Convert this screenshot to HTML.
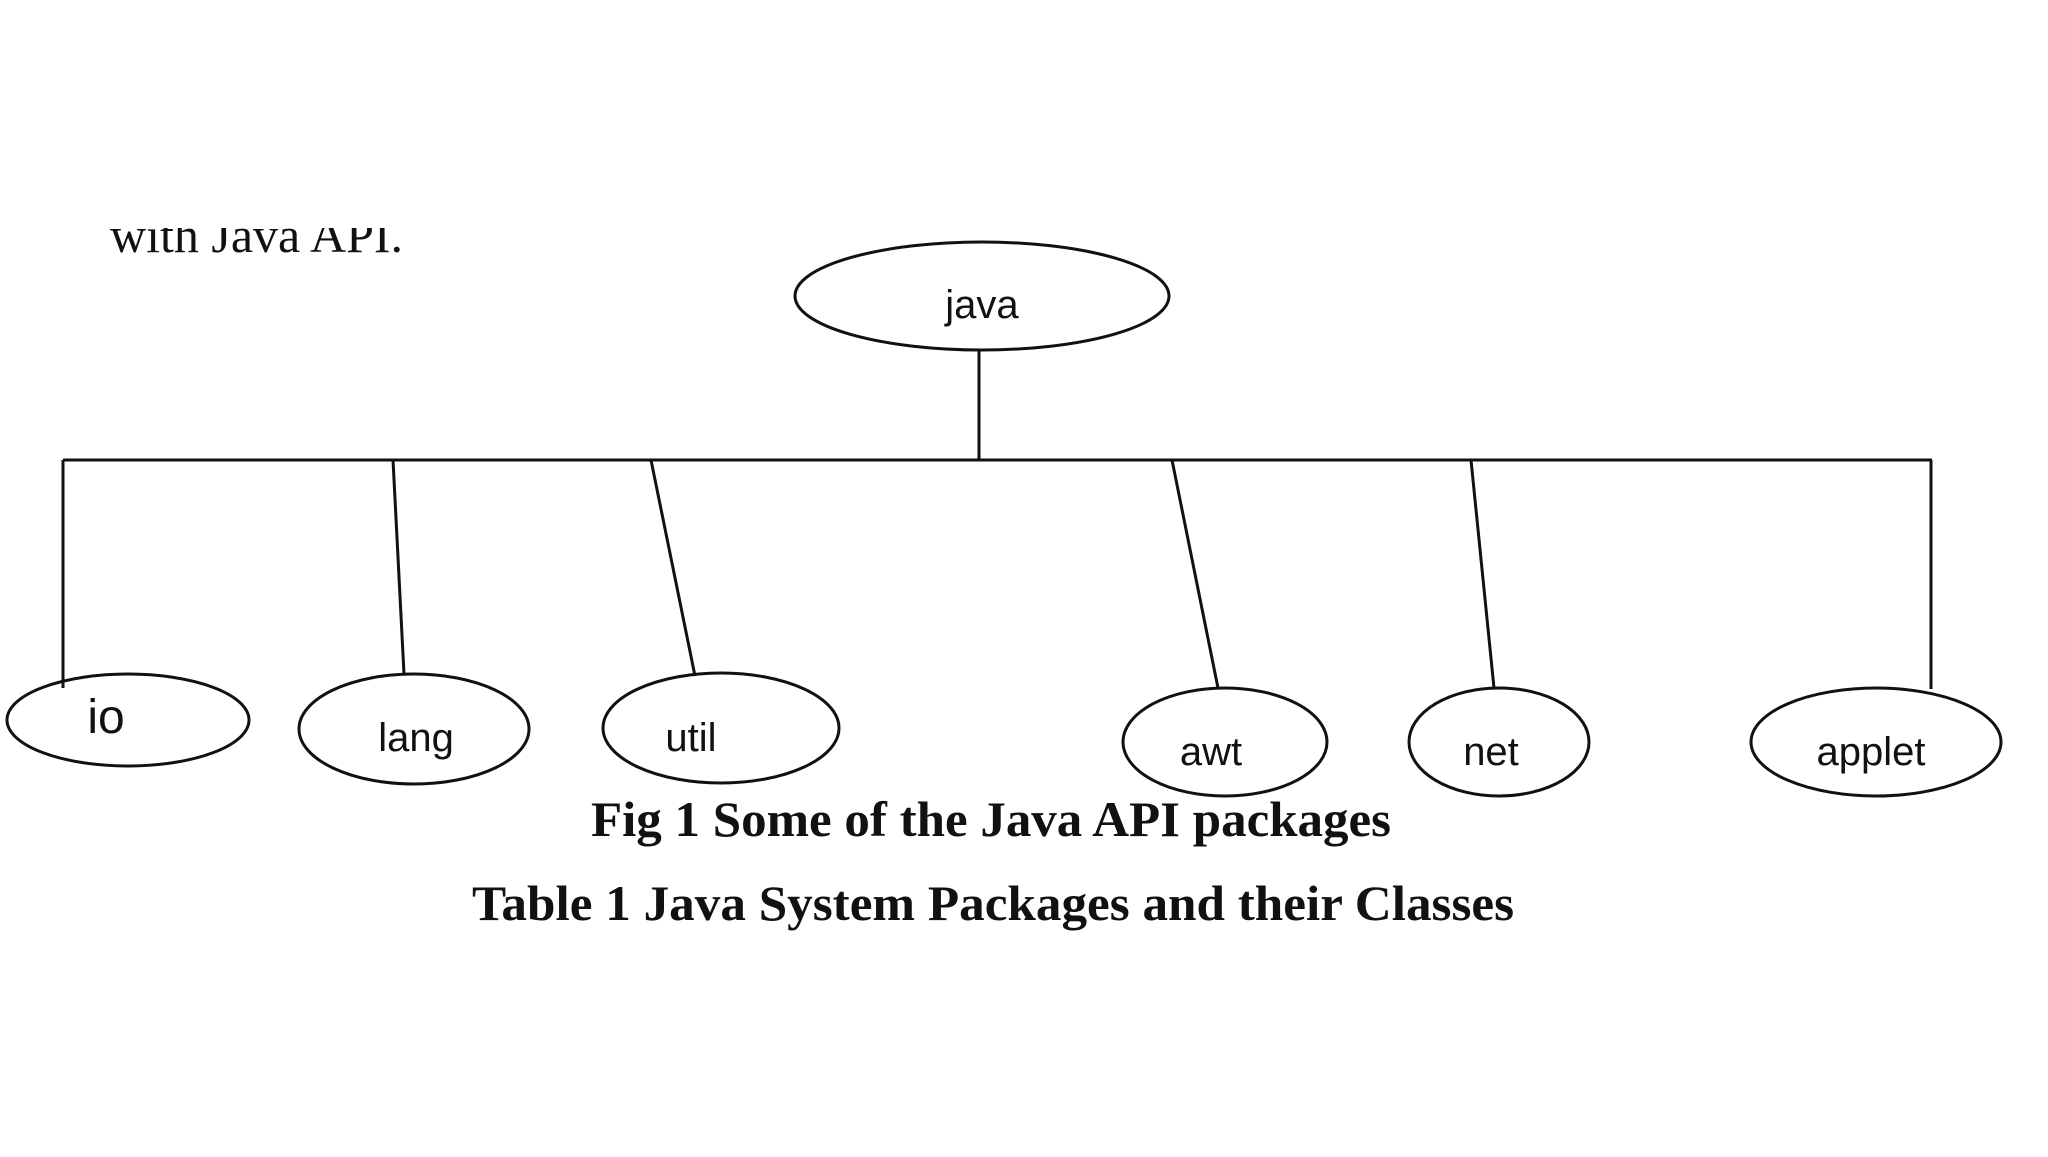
<!DOCTYPE html>
<html><head><meta charset="utf-8"><style>
html,body{margin:0;padding:0;background:#fff;}
</style></head><body>
<svg width="2048" height="1152" viewBox="0 0 2048 1152" xmlns="http://www.w3.org/2000/svg">
<defs><clipPath id="c"><rect x="0" y="228" width="2048" height="100"/></clipPath></defs>
<rect width="2048" height="1152" fill="#fff"/>
<text x="110" y="252" clip-path="url(#c)" font-family="Liberation Serif, serif" font-size="50" fill="#111">with Java API.</text>
<g fill="none" stroke="#111" stroke-width="3">
<ellipse cx="982" cy="296" rx="187" ry="54"/>
<line x1="979" y1="350" x2="979" y2="460"/>
<line x1="63" y1="460" x2="1932" y2="460"/>
<line x1="63" y1="460" x2="63" y2="688"/>
<line x1="393" y1="460" x2="404" y2="674"/>
<line x1="651" y1="460" x2="695" y2="676"/>
<line x1="1172" y1="460" x2="1218" y2="688"/>
<line x1="1471" y1="460" x2="1494" y2="688"/>
<line x1="1931" y1="460" x2="1931" y2="689"/>
<ellipse cx="128" cy="720" rx="121" ry="46"/>
<ellipse cx="414" cy="729" rx="115" ry="55"/>
<ellipse cx="721" cy="728" rx="118" ry="55"/>
<ellipse cx="1225" cy="742" rx="102" ry="54"/>
<ellipse cx="1499" cy="742" rx="90" ry="54"/>
<ellipse cx="1876" cy="742" rx="125" ry="54"/>
</g>
<g font-family="Liberation Sans, sans-serif" fill="#111" text-anchor="middle">
<text x="982" y="318" font-size="40">java</text>
<text x="106" y="733" font-size="48">io</text>
<text x="416" y="751" font-size="40">lang</text>
<text x="691" y="751" font-size="40">util</text>
<text x="1211" y="765" font-size="40">awt</text>
<text x="1491" y="765" font-size="40">net</text>
<text x="1871" y="765" font-size="40">applet</text>
</g>
<g font-family="Liberation Serif, serif" font-weight="bold" fill="#111" text-anchor="middle">
<text x="991" y="836" font-size="50" textLength="800" lengthAdjust="spacingAndGlyphs">Fig 1 Some of the Java API packages</text>
<text x="993" y="920" font-size="50" textLength="1042" lengthAdjust="spacingAndGlyphs">Table 1 Java System Packages and their Classes</text>
</g>
</svg>
</body></html>
